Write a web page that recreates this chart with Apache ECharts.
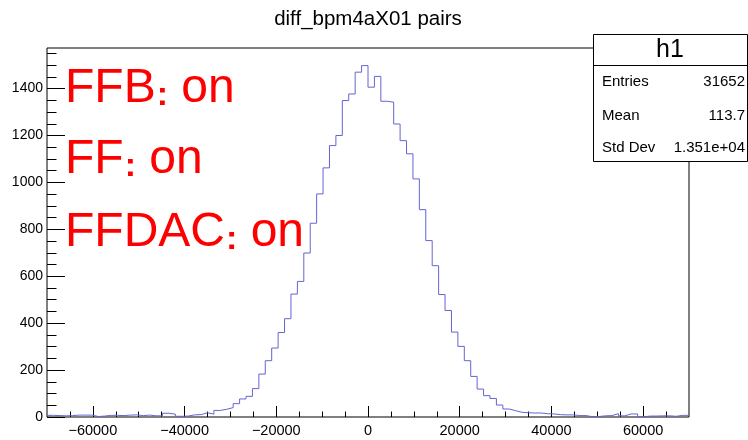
<!DOCTYPE html>
<html>
<head>
<meta charset="utf-8">
<script src="https://cdn.jsdelivr.net/npm/echarts@6/dist/echarts.min.js"></script>
<style>html,body{margin:0;padding:0;background:#fff}#c{width:748px;height:440px}</style>
</head>
<body>
<div id="c"></div>
<script>
// ---- data ----
const titleText = 'diff_bpm4aX01 pairs';
const xMin = -70000;
const xMax = 70000;
const binWidth = 1400;
const counts = [
  7,6,5,6,8,8,8,2,4,7,7,6,8,9,6,8,5,5,16,12,3,4,9,10,18,12,
  28,33,40,57,77,88,121,183,240,294,360,
  419,524,578,699,826,951,1062,1157,1200,1349,1377,1470,1498,
  1406,1452,1346,1342,1249,1178,1122,1015,884,752,645,522,454,
  362,301,240,173,119,91,79,51,34,27,20,
  18,17,17,14,13,10,9,9,6,6,1,2,5,6,14,5,13,13,1,4,4,5,5,3,7,7
];
const yMax = 1573;
const xTickLabels = [-60000,-40000,-20000,0,20000,40000,60000];
const xMinorTicks = [-65000,-55000,-50000,-45000,-35000,-30000,-25000,-15000,-10000,-5000,5000,10000,15000,25000,30000,35000,45000,50000,55000,65000];
const yTickLabels = [0,200,400,600,800,1000,1200,1400];
const yMinorTicks = [50,100,150,250,300,350,450,500,550,650,700,750,850,900,950,1050,1100,1150,1250,1300,1350,1450,1500,1550];
const statTitle = 'h1';
const statNames = ['Entries','Mean','Std Dev'];
const statValues = ['31652','113.7','1.351e+04'];
const notes = [['FFB',':',' on'],['FF',':',' on'],['FFDAC',':',' on']];

// ---- build ----
const FONT = '"Liberation Sans", Arial, Helvetica, sans-serif';
const histData = counts.map((c, i) => [xMin + i * binWidth, c]);
histData.push([xMax, counts[counts.length - 1]]);

const fmt = v => (v < 0 ? '\u2212' + (-v) : String(v));

const chart = echarts.init(document.getElementById('c'), null, {renderer: 'canvas'});

const noteY = [89, 160, 233];
const statY = [81.5, 115.5, 147.5];

const graphics = [
  {type: 'text', x: 368, y: 19, style: {text: titleText, fontSize: 20.5, fontFamily: FONT, fill: '#000', align: 'center', verticalAlign: 'middle'}},
  {type: 'rect', shape: {x: 593.5, y: 34.5, width: 154, height: 127}, style: {fill: '#fff', stroke: '#000', lineWidth: 1}, z: 10},
  {type: 'line', shape: {x1: 593.5, y1: 65.5, x2: 747.5, y2: 65.5}, style: {stroke: '#000', lineWidth: 1}, z: 11},
  {type: 'text', x: 670, y: 50.5, style: {text: statTitle, fontSize: 25, fontFamily: FONT, fill: '#000', align: 'center', verticalAlign: 'middle'}, z: 12}
];
statNames.forEach((n, i) => {
  graphics.push({type: 'text', x: 602, y: statY[i], style: {text: n, fontSize: 15, fontFamily: FONT, fill: '#000', align: 'left', verticalAlign: 'middle'}, z: 12});
  graphics.push({type: 'text', x: 745, y: statY[i], style: {text: statValues[i], fontSize: 15, fontFamily: FONT, fill: '#000', align: 'right', verticalAlign: 'middle'}, z: 12});
});
notes.forEach((parts, i) => {
  graphics.push({
    type: 'text', x: 65, y: noteY[i], z: 5,
    style: {
      text: '{a|' + parts[0] + '}{c|' + parts[1] + '}{a|' + parts[2] + '}',
      fill: '#ff0000', align: 'left', verticalAlign: 'middle',
      rich: {
        a: {fontSize: 48, fontFamily: FONT, fill: '#ff0000', verticalAlign: 'bottom', lineHeight: 48},
        c: {fontSize: 34, fontWeight: 'bold', fontFamily: FONT, fill: '#ff0000', verticalAlign: 'bottom', lineHeight: 44, padding: [0, 0, 0, 1]}
      }
    }
  });
});

const tickAxisLine = {show: false, onZero: false};

const option = {
  animation: false,
  backgroundColor: '#fff',
  grid: {left: 47, right: 59, top: 48, bottom: 23, show: true, borderColor: '#000', borderWidth: 1, backgroundColor: 'transparent', outerBoundsMode: 'none', containLabel: false},
  xAxis: [
    {
      type: 'value', min: xMin, max: xMax, position: 'bottom',
      axisLine: tickAxisLine, splitLine: {show: false},
      axisTick: {show: true, inside: true, length: 11, customValues: xTickLabels, lineStyle: {color: '#000', width: 1}},
      axisLabel: {show: true, customValues: xTickLabels, formatter: fmt, fontSize: 14.5, fontFamily: FONT, color: '#000', margin: 6}
    },
    {
      type: 'value', min: xMin, max: xMax, position: 'bottom',
      axisLine: tickAxisLine, splitLine: {show: false}, axisLabel: {show: false},
      axisTick: {show: true, inside: true, length: 5.5, customValues: xMinorTicks, lineStyle: {color: '#000', width: 1}}
    }
  ],
  yAxis: [
    {
      type: 'value', min: 0, max: yMax, position: 'left',
      axisLine: tickAxisLine, splitLine: {show: false},
      axisTick: {show: true, inside: true, length: 18, customValues: yTickLabels, lineStyle: {color: '#000', width: 1}},
      axisLabel: {show: true, customValues: yTickLabels, formatter: v => String(v), fontSize: 14, fontFamily: FONT, color: '#000', margin: 4}
    },
    {
      type: 'value', min: 0, max: yMax, position: 'left',
      axisLine: tickAxisLine, splitLine: {show: false}, axisLabel: {show: false},
      axisTick: {show: true, inside: true, length: 9.5, customValues: yMinorTicks, lineStyle: {color: '#000', width: 1}}
    }
  ],
  series: [{
    type: 'line', step: 'end', data: histData, xAxisIndex: 0, yAxisIndex: 0,
    showSymbol: false, silent: true,
    lineStyle: {color: '#6464d4', width: 1}
  }],
  graphic: graphics
};
chart.setOption(option);
</script>
</body>
</html>
